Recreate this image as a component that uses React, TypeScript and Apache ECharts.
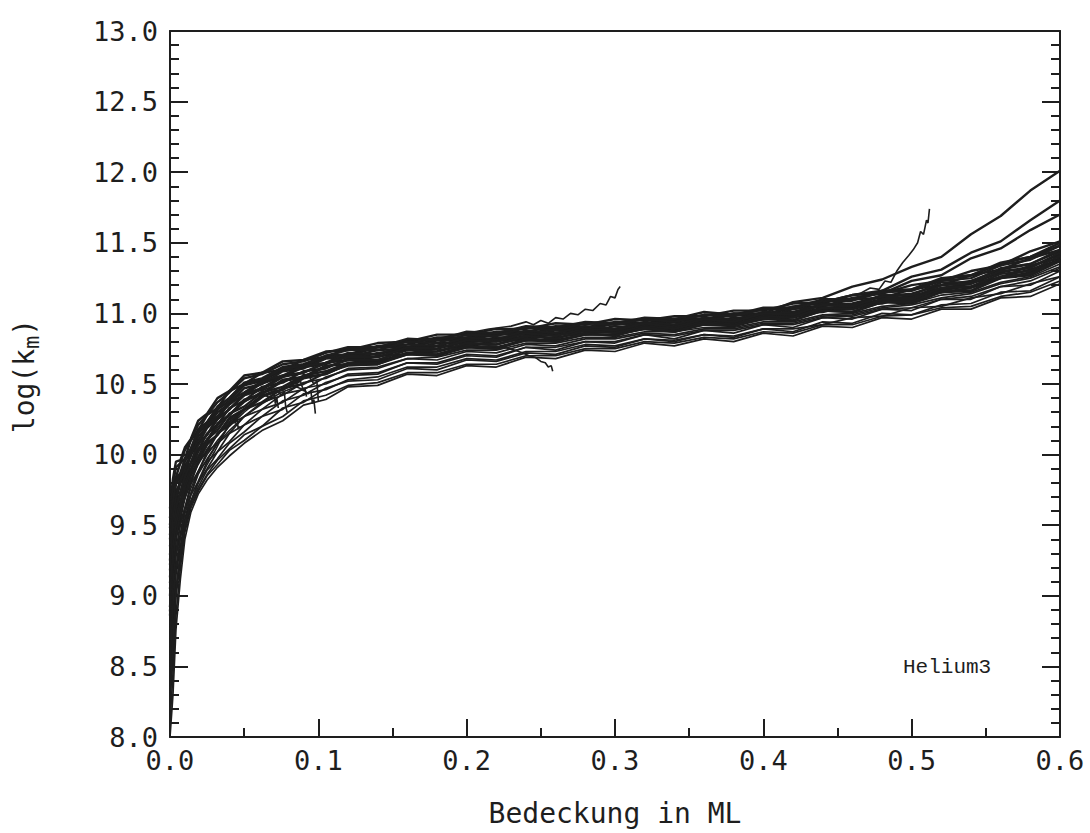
import React, { useEffect, useRef } from "react";
import * as echarts from "echarts";

// shared x grid for the long curves (coverage in ML)
const XS = [0, 0.002, 0.004, 0.007, 0.01, 0.014, 0.019, 0.025, 0.032, 0.04, 0.05, 0.062, 0.076, 0.09, 0.105,
  0.12, 0.14, 0.16, 0.18, 0.2, 0.22, 0.24, 0.26, 0.28, 0.3, 0.32, 0.34, 0.36, 0.38, 0.4,
  0.42, 0.44, 0.46, 0.48, 0.5, 0.52, 0.54, 0.56, 0.58, 0.6];

const C1 = [9.62, 9.83, 9.95, 9.96, 10.05, 10.11, 10.24, 10.29, 10.40, 10.45, 10.56, 10.58, 10.66, 10.67, 10.73, 10.74, 10.79, 10.80, 10.85, 10.85, 10.89, 10.89, 10.93, 10.92, 10.96, 10.95, 10.98, 10.98, 11.02, 11.02, 11.07, 11.08, 11.13, 11.14, 11.20, 11.23, 11.30, 11.34, 11.44, 11.51];
const C2 = [9.50, 9.80, 9.84, 9.94, 9.97, 10.10, 10.17, 10.28, 10.33, 10.45, 10.50, 10.58, 10.60, 10.67, 10.69, 10.75, 10.76, 10.81, 10.82, 10.86, 10.86, 10.90, 10.90, 10.93, 10.93, 10.96, 10.95, 10.99, 10.99, 11.03, 11.04, 11.09, 11.10, 11.15, 11.17, 11.24, 11.27, 11.35, 11.40, 11.48];
const C3 = [9.48, 9.70, 9.83, 9.87, 9.97, 10.04, 10.18, 10.23, 10.34, 10.40, 10.51, 10.54, 10.62, 10.64, 10.70, 10.71, 10.77, 10.78, 10.83, 10.83, 10.87, 10.87, 10.91, 10.90, 10.94, 10.93, 10.96, 10.96, 11.00, 11.00, 11.08, 11.11, 11.19, 11.24, 11.33, 11.40, 11.56, 11.69, 11.87, 12.01];
const C4 = [9.40, 9.64, 9.79, 9.84, 9.95, 10.02, 10.15, 10.21, 10.32, 10.38, 10.49, 10.52, 10.60, 10.62, 10.69, 10.70, 10.76, 10.76, 10.82, 10.82, 10.86, 10.85, 10.90, 10.89, 10.93, 10.92, 10.96, 10.95, 11.00, 10.99, 11.04, 11.05, 11.10, 11.11, 11.17, 11.20, 11.27, 11.31, 11.39, 11.45];
const C5 = [9.35, 9.58, 9.74, 9.80, 9.92, 9.99, 10.13, 10.19, 10.30, 10.36, 10.47, 10.50, 10.59, 10.61, 10.68, 10.69, 10.74, 10.75, 10.81, 10.81, 10.85, 10.85, 10.89, 10.88, 10.93, 10.92, 10.95, 10.95, 10.99, 10.99, 11.05, 11.07, 11.13, 11.16, 11.26, 11.31, 11.43, 11.51, 11.66, 11.80];
const C6 = [9.25, 9.56, 9.67, 9.80, 9.86, 10.00, 10.07, 10.19, 10.25, 10.37, 10.42, 10.51, 10.55, 10.62, 10.64, 10.70, 10.71, 10.76, 10.77, 10.82, 10.82, 10.86, 10.86, 10.90, 10.89, 10.93, 10.92, 10.96, 10.96, 11.00, 11.01, 11.06, 11.07, 11.12, 11.14, 11.20, 11.23, 11.31, 11.35, 11.44];
const C7 = [9.22, 9.46, 9.65, 9.73, 9.86, 9.94, 10.08, 10.14, 10.26, 10.32, 10.43, 10.47, 10.56, 10.58, 10.65, 10.67, 10.72, 10.74, 10.79, 10.79, 10.83, 10.83, 10.88, 10.87, 10.91, 10.90, 10.94, 10.93, 10.97, 10.97, 11.03, 11.05, 11.11, 11.14, 11.23, 11.27, 11.39, 11.46, 11.59, 11.70];
const C8 = [9.13, 9.44, 9.58, 9.73, 9.80, 9.94, 10.03, 10.15, 10.21, 10.33, 10.38, 10.48, 10.51, 10.59, 10.61, 10.68, 10.69, 10.75, 10.75, 10.80, 10.80, 10.84, 10.85, 10.88, 10.88, 10.92, 10.91, 10.95, 10.94, 10.99, 10.99, 11.04, 11.05, 11.10, 11.12, 11.18, 11.21, 11.29, 11.33, 11.42];
const C9 = [9.09, 9.34, 9.57, 9.66, 9.81, 9.89, 10.04, 10.10, 10.22, 10.28, 10.39, 10.43, 10.53, 10.55, 10.63, 10.64, 10.70, 10.71, 10.77, 10.76, 10.81, 10.81, 10.86, 10.85, 10.89, 10.89, 10.92, 10.92, 10.96, 10.96, 11.00, 11.01, 11.06, 11.07, 11.13, 11.15, 11.22, 11.25, 11.34, 11.39];
const C10 = [9.00, 9.32, 9.49, 9.66, 9.74, 9.89, 9.98, 10.11, 10.17, 10.29, 10.34, 10.44, 10.48, 10.56, 10.59, 10.65, 10.66, 10.72, 10.73, 10.78, 10.78, 10.83, 10.83, 10.86, 10.87, 10.90, 10.89, 10.93, 10.93, 10.97, 10.98, 11.03, 11.04, 11.09, 11.10, 11.17, 11.19, 11.26, 11.31, 11.38];
const C11 = [8.92, 9.24, 9.43, 9.62, 9.70, 9.86, 9.95, 10.08, 10.14, 10.26, 10.32, 10.42, 10.46, 10.55, 10.57, 10.64, 10.65, 10.71, 10.71, 10.76, 10.76, 10.81, 10.81, 10.85, 10.85, 10.89, 10.88, 10.92, 10.92, 10.96, 10.97, 11.02, 11.03, 11.08, 11.09, 11.15, 11.18, 11.25, 11.29, 11.38];
const C12 = [8.86, 9.13, 9.41, 9.55, 9.70, 9.80, 9.95, 10.02, 10.15, 10.21, 10.32, 10.37, 10.47, 10.50, 10.58, 10.63, 10.64, 10.71, 10.70, 10.76, 10.75, 10.81, 10.80, 10.85, 10.85, 10.89, 10.87, 10.92, 10.91, 10.96, 10.95, 11.02, 11.01, 11.08, 11.07, 11.15, 11.16, 11.25, 11.27, 11.37];
const C13 = [8.74, 9.08, 9.31, 9.52, 9.62, 9.79, 9.88, 10.02, 10.08, 10.21, 10.27, 10.37, 10.42, 10.51, 10.54, 10.61, 10.62, 10.68, 10.69, 10.74, 10.74, 10.79, 10.79, 10.83, 10.83, 10.87, 10.87, 10.90, 10.90, 10.94, 10.94, 10.99, 11.00, 11.05, 11.07, 11.13, 11.15, 11.22, 11.26, 11.35];
const C14 = [8.67, 8.95, 9.28, 9.44, 9.61, 9.72, 9.88, 9.96, 10.08, 10.15, 10.27, 10.32, 10.43, 10.46, 10.55, 10.60, 10.61, 10.68, 10.67, 10.73, 10.72, 10.78, 10.77, 10.82, 10.82, 10.86, 10.85, 10.89, 10.89, 10.93, 10.93, 10.98, 10.99, 11.04, 11.06, 11.11, 11.14, 11.21, 11.25, 11.33];
const C15 = [8.55, 8.90, 9.17, 9.41, 9.54, 9.71, 9.81, 9.95, 10.02, 10.15, 10.21, 10.32, 10.37, 10.47, 10.50, 10.57, 10.58, 10.65, 10.65, 10.71, 10.70, 10.76, 10.76, 10.80, 10.80, 10.85, 10.84, 10.88, 10.88, 10.92, 10.92, 10.97, 10.98, 11.03, 11.04, 11.10, 11.12, 11.19, 11.23, 11.32];
const C16 = [8.48, 8.77, 9.15, 9.35, 9.54, 9.67, 9.80, 9.90, 10.02, 10.09, 10.21, 10.27, 10.38, 10.42, 10.51, 10.56, 10.57, 10.65, 10.64, 10.70, 10.69, 10.76, 10.74, 10.80, 10.79, 10.85, 10.82, 10.88, 10.86, 10.92, 10.90, 10.97, 10.96, 11.03, 11.02, 11.10, 11.10, 11.19, 11.20, 11.30];
const C17 = [8.34, 8.70, 9.03, 9.31, 9.50, 9.66, 9.77, 9.89, 9.97, 10.08, 10.16, 10.27, 10.32, 10.43, 10.46, 10.53, 10.55, 10.62, 10.62, 10.68, 10.67, 10.73, 10.73, 10.78, 10.77, 10.82, 10.81, 10.85, 10.84, 10.89, 10.89, 10.92, 10.97, 10.98, 11.04, 11.05, 11.11, 11.14, 11.21, 11.26];
const C18 = [8.25, 8.56, 8.99, 9.25, 9.48, 9.64, 9.75, 9.86, 9.96, 10.04, 10.14, 10.20, 10.33, 10.37, 10.47, 10.52, 10.53, 10.61, 10.60, 10.67, 10.66, 10.72, 10.71, 10.77, 10.76, 10.82, 10.80, 10.85, 10.83, 10.89, 10.87, 10.94, 10.93, 11.00, 10.99, 11.06, 11.07, 11.15, 11.16, 11.26];
const C19 = [8.10, 8.45, 8.86, 9.20, 9.45, 9.62, 9.74, 9.85, 9.93, 10.03, 10.10, 10.20, 10.27, 10.38, 10.42, 10.49, 10.51, 10.58, 10.58, 10.64, 10.64, 10.70, 10.70, 10.75, 10.75, 10.80, 10.79, 10.83, 10.82, 10.87, 10.86, 10.92, 10.92, 10.98, 10.99, 11.04, 11.05, 11.12, 11.15, 11.23];
const C20 = [8.00, 8.30, 8.76, 9.12, 9.40, 9.59, 9.72, 9.82, 9.91, 9.99, 10.08, 10.17, 10.24, 10.35, 10.39, 10.48, 10.49, 10.57, 10.56, 10.63, 10.62, 10.69, 10.68, 10.74, 10.73, 10.79, 10.77, 10.82, 10.80, 10.86, 10.84, 10.91, 10.90, 10.97, 10.96, 11.03, 11.03, 11.11, 11.12, 11.21];
const C21 = [9.55, 9.79, 9.91, 9.94, 10.03, 10.10, 10.21, 10.28, 10.37, 10.44, 10.54, 10.57, 10.64, 10.66, 10.72, 10.76, 10.76, 10.82, 10.81, 10.87, 10.86, 10.91, 10.90, 10.94, 10.93, 10.97, 10.96, 11.01, 10.99, 11.04, 11.04, 11.10, 11.10, 11.16, 11.17, 11.25, 11.27, 11.36, 11.40, 11.50];
const C22 = [9.43, 9.67, 9.81, 9.86, 9.96, 10.04, 10.16, 10.23, 10.33, 10.40, 10.50, 10.53, 10.61, 10.63, 10.70, 10.74, 10.74, 10.80, 10.79, 10.85, 10.84, 10.90, 10.88, 10.93, 10.92, 10.96, 10.94, 10.99, 10.98, 11.03, 11.03, 11.09, 11.09, 11.15, 11.16, 11.23, 11.25, 11.34, 11.38, 11.48];
const C23 = [9.29, 9.58, 9.70, 9.82, 9.88, 10.01, 10.10, 10.21, 10.27, 10.38, 10.44, 10.52, 10.56, 10.63, 10.65, 10.72, 10.71, 10.78, 10.77, 10.83, 10.81, 10.88, 10.86, 10.91, 10.89, 10.94, 10.92, 10.97, 10.95, 11.01, 11.00, 11.07, 11.06, 11.13, 11.13, 11.22, 11.22, 11.32, 11.35, 11.45];
const C24 = [9.18, 9.44, 9.63, 9.73, 9.84, 9.94, 10.07, 10.14, 10.25, 10.32, 10.42, 10.46, 10.55, 10.58, 10.65, 10.69, 10.69, 10.76, 10.75, 10.81, 10.80, 10.86, 10.84, 10.89, 10.88, 10.93, 10.90, 10.96, 10.94, 11.00, 10.99, 11.06, 11.05, 11.12, 11.11, 11.20, 11.21, 11.30, 11.32, 11.43];
const C25 = [9.05, 9.31, 9.54, 9.66, 9.79, 9.89, 10.02, 10.10, 10.21, 10.28, 10.38, 10.43, 10.52, 10.55, 10.62, 10.67, 10.67, 10.74, 10.73, 10.79, 10.78, 10.84, 10.82, 10.88, 10.86, 10.91, 10.89, 10.94, 10.92, 10.98, 10.97, 11.04, 11.03, 11.10, 11.10, 11.18, 11.19, 11.28, 11.30, 11.41];
const C26 = [8.89, 9.20, 9.42, 9.60, 9.70, 9.85, 9.95, 10.07, 10.14, 10.25, 10.32, 10.41, 10.46, 10.54, 10.57, 10.64, 10.64, 10.72, 10.71, 10.77, 10.75, 10.82, 10.80, 10.86, 10.84, 10.90, 10.87, 10.93, 10.91, 10.97, 10.95, 11.02, 11.01, 11.08, 11.08, 11.16, 11.16, 11.26, 11.28, 11.38];

// short runs that stop early with noisy tails
const S1X = [0, 0.002, 0.004, 0.007, 0.01, 0.014, 0.019, 0.025, 0.03, 0.035, 0.039, 0.042, 0.044, 0.045, 0.046, 0.047];
const S1Y = [8.3, 8.7, 9.05, 9.3, 9.5, 9.66, 9.8, 9.93, 10.02, 10.12, 10.2, 10.27, 10.22, 10.28, 10.18, 10.2];
const S2X = [0, 0.002, 0.004, 0.007, 0.01, 0.014, 0.019, 0.025, 0.032, 0.04, 0.05, 0.058, 0.064, 0.068, 0.07, 0.071, 0.072, 0.073];
const S2Y = [8.7, 9.1, 9.3, 9.5, 9.62, 9.76, 9.88, 10.0, 10.1, 10.2, 10.3, 10.37, 10.42, 10.40, 10.44, 10.36, 10.40, 10.33];
const S3X = [0, 0.002, 0.004, 0.007, 0.01, 0.014, 0.019, 0.025, 0.032, 0.04, 0.05, 0.06, 0.067, 0.072, 0.075, 0.077, 0.078, 0.079];
const S3Y = [8.9, 9.25, 9.42, 9.58, 9.7, 9.82, 9.93, 10.04, 10.14, 10.23, 10.32, 10.4, 10.44, 10.46, 10.42, 10.45, 10.34, 10.30];
const S4X = [0, 0.002, 0.004, 0.007, 0.01, 0.014, 0.019, 0.025, 0.032, 0.04, 0.05, 0.062, 0.072, 0.08, 0.085, 0.088, 0.09, 0.091, 0.092];
const S4Y = [9.0, 9.35, 9.5, 9.64, 9.76, 9.88, 9.99, 10.09, 10.19, 10.28, 10.37, 10.45, 10.5, 10.53, 10.5, 10.52, 10.45, 10.47, 10.41];
const S5X = [0, 0.002, 0.004, 0.007, 0.01, 0.014, 0.019, 0.025, 0.032, 0.04, 0.05, 0.062, 0.075, 0.085, 0.09, 0.093, 0.095, 0.096, 0.097, 0.098];
const S5Y = [8.5, 8.95, 9.2, 9.42, 9.58, 9.72, 9.86, 9.97, 10.08, 10.17, 10.27, 10.36, 10.44, 10.48, 10.46, 10.43, 10.45, 10.36, 10.39, 10.29];
const S6X = [0, 0.002, 0.004, 0.007, 0.01, 0.014, 0.019, 0.025, 0.032, 0.04, 0.05, 0.062, 0.076, 0.088, 0.094, 0.097, 0.099, 0.1];
const S6Y = [9.2, 9.55, 9.7, 9.8, 9.9, 10.0, 10.1, 10.19, 10.27, 10.35, 10.43, 10.5, 10.55, 10.58, 10.55, 10.5, 10.52, 10.38];

// runs that leave the band
const O1X = [0.2, 0.215, 0.23, 0.24, 0.245, 0.25, 0.255, 0.26, 0.265, 0.27, 0.275, 0.28, 0.285, 0.29, 0.294, 0.297, 0.3, 0.302, 0.3035];
const O1Y = [10.86, 10.89, 10.91, 10.94, 10.92, 10.95, 10.93, 10.97, 10.96, 11.0, 10.99, 11.03, 11.02, 11.07, 11.06, 11.12, 11.11, 11.17, 11.19];
const O2X = [0.18, 0.2, 0.215, 0.225, 0.232, 0.238, 0.242, 0.246, 0.25, 0.253, 0.255, 0.257, 0.258];
const O2Y = [10.74, 10.76, 10.77, 10.76, 10.74, 10.72, 10.70, 10.69, 10.66, 10.65, 10.62, 10.63, 10.59];
const O3X = [0.44, 0.455, 0.465, 0.472, 0.478, 0.482, 0.486, 0.49, 0.494, 0.498, 0.501, 0.504, 0.506, 0.508, 0.51, 0.511, 0.512];
const O3Y = [11.08, 11.12, 11.14, 11.18, 11.17, 11.23, 11.22, 11.30, 11.36, 11.41, 11.45, 11.50, 11.58, 11.56, 11.66, 11.64, 11.74];

const X_TICKS = ["0.0", "0.1", "0.2", "0.3", "0.4", "0.5", "0.6"];
const Y_TICKS = ["8.0", "8.5", "9.0", "9.5", "10.0", "10.5", "11.0", "11.5", "12.0", "12.5", "13.0"];

// upper (dense) part of the bundle and lower (sparse) part
const UPPER = [C1, C2, C3, C4, C5, C6, C7, C8, C9, C10, C11, C12, C21, C22, C23, C24, C25, C26];
const LOWER = [C13, C14, C15, C16, C17, C18, C19, C20];
const PAIRS: [number[], number[]][] = [
  [S1X, S1Y], [S2X, S2Y], [S3X, S3Y], [S4X, S4Y], [S5X, S5Y], [S6X, S6Y],
  [O1X, O1Y], [O2X, O2Y], [O3X, O3Y],
];

const MONO = "'DejaVu Sans Mono', monospace";
const INK = "#1e1e1e";

export default function App() {
  const ref = useRef<HTMLDivElement>(null);
  useEffect(() => {
    document.body.style.margin = "0";
    if (!ref.current) return;
    const chart = echarts.init(ref.current, undefined, { renderer: "svg" });
    const lineSeries = (data: number[][], w: number) => ({
      type: "line",
      data,
      showSymbol: false,
      symbol: "none",
      silent: true,
      clip: true,
      lineStyle: { color: INK, width: w },
    });
    const series: any[] = [];
    UPPER.forEach((ys) => series.push(lineSeries(ys.map((y, i) => [XS[i], y]), 2.4)));
    LOWER.forEach((ys) => series.push(lineSeries(ys.map((y, i) => [XS[i], y]), 1.7)));
    PAIRS.forEach(([xs, ys]) => series.push(lineSeries(xs.map((x, i) => [x, ys[i]]), 1.6)));

    const axisLine = { show: true, onZero: false, lineStyle: { color: INK, width: 2 } };

    chart.setOption({
      animation: false,
      backgroundColor: "#fff",
      grid: { left: 170, right: 30, top: 31, bottom: 96, outerBoundsMode: "none", containLabel: false },
      xAxis: [
        {
          type: "value",
          min: 0,
          max: 0.6,
          interval: 0.1,
          position: "bottom",
          name: "Bedeckung in ML",
          nameLocation: "middle",
          nameGap: 62,
          nameTextStyle: { fontFamily: MONO, fontSize: 28, color: INK },
          axisLine,
          axisTick: { show: true, inside: true, length: 18, lineStyle: { color: INK, width: 2 } },
          minorTick: { show: true, splitNumber: 2, length: 9, lineStyle: { color: INK, width: 2 } },
          splitLine: { show: false },
          axisLabel: {
            show: true,
            margin: 10,
            fontFamily: MONO,
            fontSize: 27,
            color: INK,
            showMinLabel: true,
            showMaxLabel: true,
            formatter: (v: number) => X_TICKS[Math.round(v * 10)] ?? "",
          },
        },
        {
          type: "value",
          min: 0,
          max: 0.6,
          interval: 0.1,
          position: "top",
          axisLine,
          axisTick: { show: false },
          axisLabel: { show: false },
          splitLine: { show: false },
        },
      ],
      yAxis: [
        {
          type: "value",
          min: 8,
          max: 13,
          interval: 0.5,
          position: "left",
          name: "{a|log(k}{s|m}{a|)}",
          nameLocation: "middle",
          nameGap: 128,
          nameRotate: 90,
          nameTextStyle: {
            fontFamily: MONO,
            fontSize: 28,
            color: INK,
            padding: [0, 0, 0, 16],
            rich: {
              a: { fontFamily: MONO, fontSize: 28, color: INK },
              s: { fontFamily: MONO, fontSize: 22, color: INK, verticalAlign: "bottom", padding: [14, 0, 0, 0] },
            },
          },
          axisLine,
          axisTick: { show: true, inside: true, length: 18, lineStyle: { color: INK, width: 2 } },
          minorTick: { show: true, splitNumber: 5, length: 9, lineStyle: { color: INK, width: 2 } },
          splitLine: { show: false },
          axisLabel: {
            show: true,
            margin: 12,
            fontFamily: MONO,
            fontSize: 27,
            color: INK,
            showMinLabel: true,
            showMaxLabel: true,
            formatter: (v: number) => Y_TICKS[Math.round((v - 8) * 2)] ?? "",
          },
        },
        {
          type: "value",
          min: 8,
          max: 13,
          interval: 0.5,
          position: "right",
          axisLine,
          axisTick: { show: true, inside: true, length: 18, lineStyle: { color: INK, width: 2 } },
          minorTick: { show: true, splitNumber: 5, length: 9, lineStyle: { color: INK, width: 2 } },
          splitLine: { show: false },
          axisLabel: { show: false },
        },
      ],
      graphic: [
        {
          type: "text",
          left: 903,
          top: 657,
          style: { text: "Helium3", fontFamily: "'Liberation Mono', monospace", fontSize: 21, fill: INK },
        },
      ],
      series,
    });
    return () => chart.dispose();
  }, []);
  return <div ref={ref} style={{ width: 1090, height: 833 }} />;
}
